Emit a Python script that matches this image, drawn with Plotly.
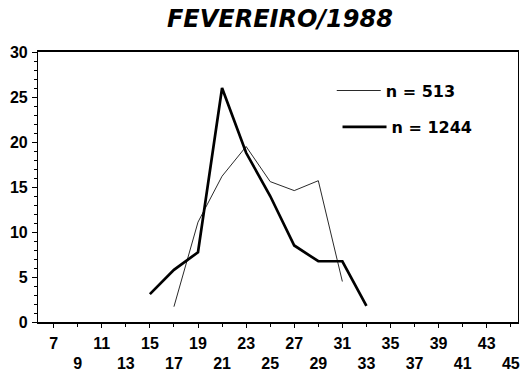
import plotly.graph_objects as go

# Class midpoints (odd values) and frequencies for the two samples
classes_513 = [17, 19, 21, 23, 25, 27, 29, 31]
freq_513 = [1.7, 11.1, 16.2, 19.5, 15.6, 14.6, 15.7, 4.5]

classes_1244 = [15, 17, 19, 21, 23, 25, 27, 29, 31, 33]
freq_1244 = [3.1, 5.8, 7.75, 26.0, 18.8, 14.0, 8.5, 6.75, 6.75, 1.8]

# Staggered tick rows on the class axis
ticks_row1 = [7, 11, 15, 19, 23, 27, 31, 35, 39, 43]
ticks_row2 = [9, 13, 17, 21, 25, 29, 33, 37, 41, 45]
y_ticks = [0, 5, 10, 15, 20, 25, 30]

title_text = "FEVEREIRO/1988"
label_513 = "n = 513"
label_1244 = "n = 1244"

FONT = "Liberation Sans, Arial, sans-serif"
WIDE_FONT = "DejaVu Sans, sans-serif"
X_RANGE = [5.7, 45.6]

fig = go.Figure()

fig.add_trace(go.Scatter(
    x=classes_513, y=freq_513, mode="lines", name=label_513,
    line=dict(color="#2a2a2a", width=1), legend="legend",
))
fig.add_trace(go.Scatter(
    x=classes_1244, y=freq_1244, mode="lines", name=label_1244,
    line=dict(color="#000000", width=2.7), legend="legend2",
))

legend_font = dict(family=WIDE_FONT, size=16, color="black", weight="bold")

fig.update_layout(
    width=529, height=381,
    margin=dict(l=38, r=9, t=52, b=48.5),
    paper_bgcolor="white", plot_bgcolor="white",
    title=dict(
        text=title_text, x=0.504, xref="paper", xanchor="center",
        y=1 - 19 / 381, yref="container", yanchor="middle",
        font=dict(family=WIDE_FONT, size=24, color="black",
                  weight="bold", style="italic"),
    ),
    showlegend=True,
    legend=dict(
        x=0.612, y=0.857, xanchor="left", yanchor="middle",
        bgcolor="rgba(0,0,0,0)", itemwidth=44, font=legend_font,
    ),
    legend2=dict(
        x=0.624, y=0.722, xanchor="left", yanchor="middle",
        bgcolor="rgba(0,0,0,0)", itemwidth=44, font=legend_font,
    ),
    xaxis=dict(
        range=X_RANGE, tickmode="array", tickvals=ticks_row1,
        ticktext=[str(v) for v in ticks_row1],
        ticks="outside", ticklen=4, tickwidth=1, tickcolor="black",
        showline=True, linecolor="black", linewidth=1.5, mirror=True,
        showgrid=False, zeroline=False, ticklabelstandoff=2,
        tickfont=dict(family=FONT, size=16, color="black", weight="bold"),
    ),
    xaxis2=dict(
        range=X_RANGE, overlaying="x", anchor="y", side="bottom",
        tickmode="array", tickvals=ticks_row2,
        ticktext=[str(v) for v in ticks_row2],
        ticks="outside", ticklen=4, tickwidth=1, tickcolor="black",
        showline=False, showgrid=False, zeroline=False, ticklabelstandoff=23,
        tickfont=dict(family=FONT, size=16, color="black", weight="bold"),
    ),
    yaxis=dict(
        range=[0, 30], tickmode="array", tickvals=y_ticks,
        ticks="outside", ticklen=5, tickwidth=1, tickcolor="black",
        minor=dict(dtick=1, ticks="outside", ticklen=3, tickcolor="black", showgrid=False),
        showline=True, linecolor="black", linewidth=1.2, mirror=True,
        showgrid=False, zeroline=False, ticklabelstandoff=1,
        tickfont=dict(family=FONT, size=16, color="black", weight="bold"),
    ),
)

# An invisible trace keeps the second class axis active
fig.add_trace(go.Scatter(x=[X_RANGE[0]], y=[0], xaxis="x2", mode="markers",
                         marker=dict(opacity=0), showlegend=False, hoverinfo="skip"))

fig.write_html("out.html")
